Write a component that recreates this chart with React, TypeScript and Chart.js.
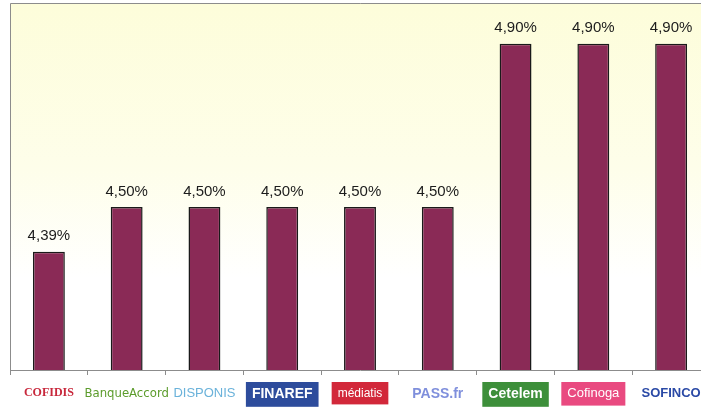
import React, { useEffect, useRef } from "react";
import { Chart, registerables, Plugin } from "chart.js";

Chart.register(...registerables);

// lenders (logos in the original, written as names here)
const lenders = ["COFIDIS", "BanqueAccord", "DISPONIS", "FINAREF", "médiatis", "PASS.fr", "Cetelem", "Cofinoga", "SOFINCO"];
const rates = [4.39, 4.5, 4.5, 4.5, 4.5, 4.5, 4.9, 4.9, 4.9];
const rateLabels = ["4,39%", "4,50%", "4,50%", "4,50%", "4,50%", "4,50%", "4,90%", "4,90%", "4,90%"];

// per-label look, loosely after each logo
const labelColors = ["#c8283c", "#5c9c2c", "#6ab2da", "#ffffff", "#ffffff", "#7f8fdc", "#ffffff", "#ffffff", "#2b4aa6"];
const labelBackdrops = ["", "", "", "#2d4c9c", "#d2283a", "", "#3d8f3a", "#e94a80", ""];
const labelFonts = [
  { family: "Liberation Serif", size: 12, weight: "bold" },
  { family: "DejaVu Sans Condensed, Liberation Sans", size: 13, weight: "normal" },
  { family: "Liberation Sans", size: 13, weight: "normal" },
  { family: "Liberation Sans", size: 14, weight: "bold" },
  { family: "Liberation Sans", size: 12, weight: "normal" },
  { family: "Liberation Sans", size: 14, weight: "bold" },
  { family: "Liberation Sans", size: 14, weight: "bold" },
  { family: "Liberation Sans", size: 13, weight: "normal" },
  { family: "Liberation Sans", size: 13, weight: "bold" },
];

const backgroundPlugin: Plugin = {
  id: "plotBackground",
  beforeDraw(chart) {
    const { ctx, chartArea } = chart;
    if (!chartArea) return;
    const g = ctx.createLinearGradient(0, chartArea.top, 0, chartArea.bottom);
    g.addColorStop(0, "#fdfdda");
    g.addColorStop(0.45, "#fefeea");
    g.addColorStop(0.75, "#ffffff");
    g.addColorStop(1, "#ffffff");
    ctx.save();
    ctx.fillStyle = g;
    ctx.fillRect(chartArea.left, chartArea.top, chartArea.right - chartArea.left, chartArea.bottom - chartArea.top);
    ctx.restore();
  },
  afterDraw(chart) {
    const { ctx, chartArea } = chart;
    ctx.save();
    ctx.strokeStyle = "#8c8c8c";
    ctx.lineWidth = 1;
    ctx.beginPath();
    ctx.moveTo(chartArea.left + 0.5, chartArea.bottom);
    ctx.lineTo(chartArea.left + 0.5, chartArea.top + 0.5);
    ctx.lineTo(chartArea.right, chartArea.top + 0.5);
    ctx.stroke();
    ctx.restore();
  },
};

const valueLabelPlugin: Plugin = {
  id: "valueLabels",
  afterDatasetsDraw(chart) {
    const { ctx } = chart;
    const meta = chart.getDatasetMeta(0);
    ctx.save();
    ctx.font = "15px 'Liberation Sans', Arial, sans-serif";
    ctx.fillStyle = "#1c1c1c";
    ctx.textAlign = "center";
    ctx.textBaseline = "bottom";
    meta.data.forEach((bar: any, i: number) => {
      ctx.fillText(rateLabels[i], bar.x, bar.y - 8);
    });
    ctx.restore();
  },
};

export default function App() {
  const chartRef = useRef<HTMLCanvasElement>(null);
  const chartInstanceRef = useRef<Chart | null>(null);

  useEffect(() => {
    document.body.style.margin = "0";
    if (!chartRef.current) return;
    const ctx = chartRef.current.getContext("2d");
    if (!ctx) return;

    if (chartInstanceRef.current) {
      chartInstanceRef.current.destroy();
    }

    chartInstanceRef.current = new Chart(ctx, {
      type: "bar",
      data: {
        labels: lenders,
        datasets: [
          {
            data: rates,
            backgroundColor: "#8a2a56",
            borderColor: "#1a1a1a",
            borderWidth: 1.5,
            categoryPercentage: 1,
            barPercentage: 0.41,
          },
        ],
      },
      options: {
        responsive: false,
        animation: false,
        layout: { padding: { top: 3, left: 10, right: 2, bottom: 0 } },
        plugins: {
          legend: { display: false },
          tooltip: { enabled: false },
        },
        scales: {
          x: {
            afterFit: (scale: any) => {
              scale.height = 46;
            },
            grid: {
              display: true,
              drawOnChartArea: false,
              drawTicks: true,
              tickLength: 5,
              color: "#8c8c8c",
              offset: true,
            },
            border: { display: true, color: "#8c8c8c" },
            ticks: {
              padding: 11,
              maxRotation: 0,
              autoSkip: false,
              color: (c: any) => labelColors[c.index],
              font: (c: any) => labelFonts[c.index] as any,
              showLabelBackdrop: (c: any) => labelBackdrops[c.index] !== "",
              backdropColor: (c: any) => labelBackdrops[c.index] || "rgba(0,0,0,0)",
              backdropPadding: { x: 6, y: 4 },
            } as any,
          },
          y: {
            display: false,
            min: 4.1,
            max: 5.0,
          },
        },
      },
      plugins: [backgroundPlugin, valueLabelPlugin],
    });

    return () => {
      if (chartInstanceRef.current) {
        chartInstanceRef.current.destroy();
        chartInstanceRef.current = null;
      }
    };
  }, []);

  return (
    <div style={{ position: "relative", width: 701, height: 416, overflow: "hidden", background: "#ffffff" }}>
      <canvas ref={chartRef} width={712} height={416} style={{ display: "block" }} />
    </div>
  );
}
